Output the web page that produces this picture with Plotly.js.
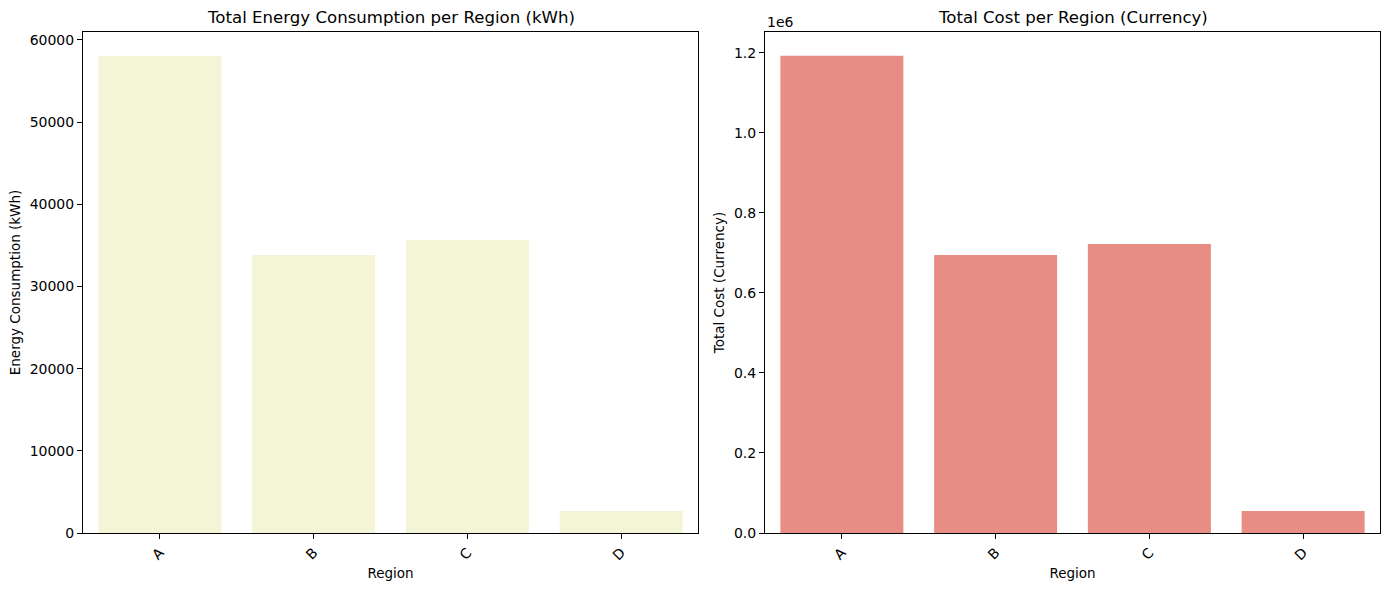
<!DOCTYPE html>
<html>
<head>
<meta charset="utf-8">
<script src="https://cdn.plot.ly/plotly-3.0.1.min.js"></script>
<style>html,body{margin:0;padding:0;background:#fff;}#chart{width:1389px;height:590px;}</style>
</head>
<body>
<div id="chart"></div>
<script>
const regions = ["A", "B", "C", "D"];
const energyKWh = [58050, 33830, 35650, 2680];
const totalCost = [1192500, 695000, 722500, 55000];
const energyTicks = [0, 10000, 20000, 30000, 40000, 50000, 60000];
const costTickVals = [0, 200000, 400000, 600000, 800000, 1000000, 1200000];
const costTickText = ["0.0", "0.2", "0.4", "0.6", "0.8", "1.0", "1.2"];

const FONT = "DejaVu Sans, sans-serif";
const W = 1389, H = 590;
const px = v => v / W, py = v => 1 - v / H;

const traces = [
  {type: "bar", x: regions, y: energyKWh, marker: {color: "#F4F5D6"}, width: 0.8, xaxis: "x", yaxis: "y", hoverinfo: "x+y"},
  {type: "bar", x: regions, y: totalCost, marker: {color: "#E88D83"}, width: 0.8, xaxis: "x2", yaxis: "y2", hoverinfo: "x+y"}
];

const axisCommon = {
  showgrid: false, zeroline: false, showline: true, mirror: true,
  linecolor: "#000", linewidth: 1, ticks: "outside", ticklen: 5, tickwidth: 1, tickcolor: "#000",
  tickfont: {family: FONT, size: 14, color: "#000"}
};

const layout = {
  width: W, height: H,
  margin: {l: 0, r: 0, t: 0, b: 0},
  paper_bgcolor: "#fff", plot_bgcolor: "#fff",
  showlegend: false,
  font: {family: FONT, color: "#000"},
  xaxis: Object.assign({}, axisCommon, {
    domain: [px(83), px(698)], anchor: "y", range: [-0.5, 3.5], tickangle: -45,
    title: {text: "Region", font: {family: FONT, size: 13.5}, standoff: 6}
  }),
  yaxis: Object.assign({}, axisCommon, {
    domain: [py(533), py(32)], anchor: "x", range: [0, 60952],
    tickvals: energyTicks, ticktext: energyTicks.map(String),
    title: {text: "Energy Consumption (kWh)", font: {family: FONT, size: 13.5}, standoff: 5}
  }),
  xaxis2: Object.assign({}, axisCommon, {
    domain: [px(765), px(1380)], anchor: "y2", range: [-0.5, 3.5], tickangle: -45,
    title: {text: "Region", font: {family: FONT, size: 13.5}, standoff: 6}
  }),
  yaxis2: Object.assign({}, axisCommon, {
    domain: [py(533), py(32)], anchor: "x2", range: [0, 1252125],
    tickvals: costTickVals, ticktext: costTickText,
    title: {text: "Total Cost (Currency)", font: {family: FONT, size: 13.5}, standoff: 6}
  }),
  annotations: [
    {text: "Total Energy Consumption per Region (kWh)", xref: "paper", yref: "paper", x: px(390.5), y: py(18), xanchor: "center", yanchor: "middle", showarrow: false, font: {family: FONT, size: 16.6, color: "#000"}},
    {text: "Total Cost per Region (Currency)", xref: "paper", yref: "paper", x: px(1072.5), y: py(18), xanchor: "center", yanchor: "middle", showarrow: false, font: {family: FONT, size: 16.6, color: "#000"}},
    {text: "1e6", xref: "paper", yref: "paper", x: px(765), y: py(22), xanchor: "left", yanchor: "middle", showarrow: false, font: {family: FONT, size: 14, color: "#000"}}
  ]
};

Plotly.newPlot("chart", traces, layout, {displayModeBar: false, staticPlot: true});
</script>
</body>
</html>
